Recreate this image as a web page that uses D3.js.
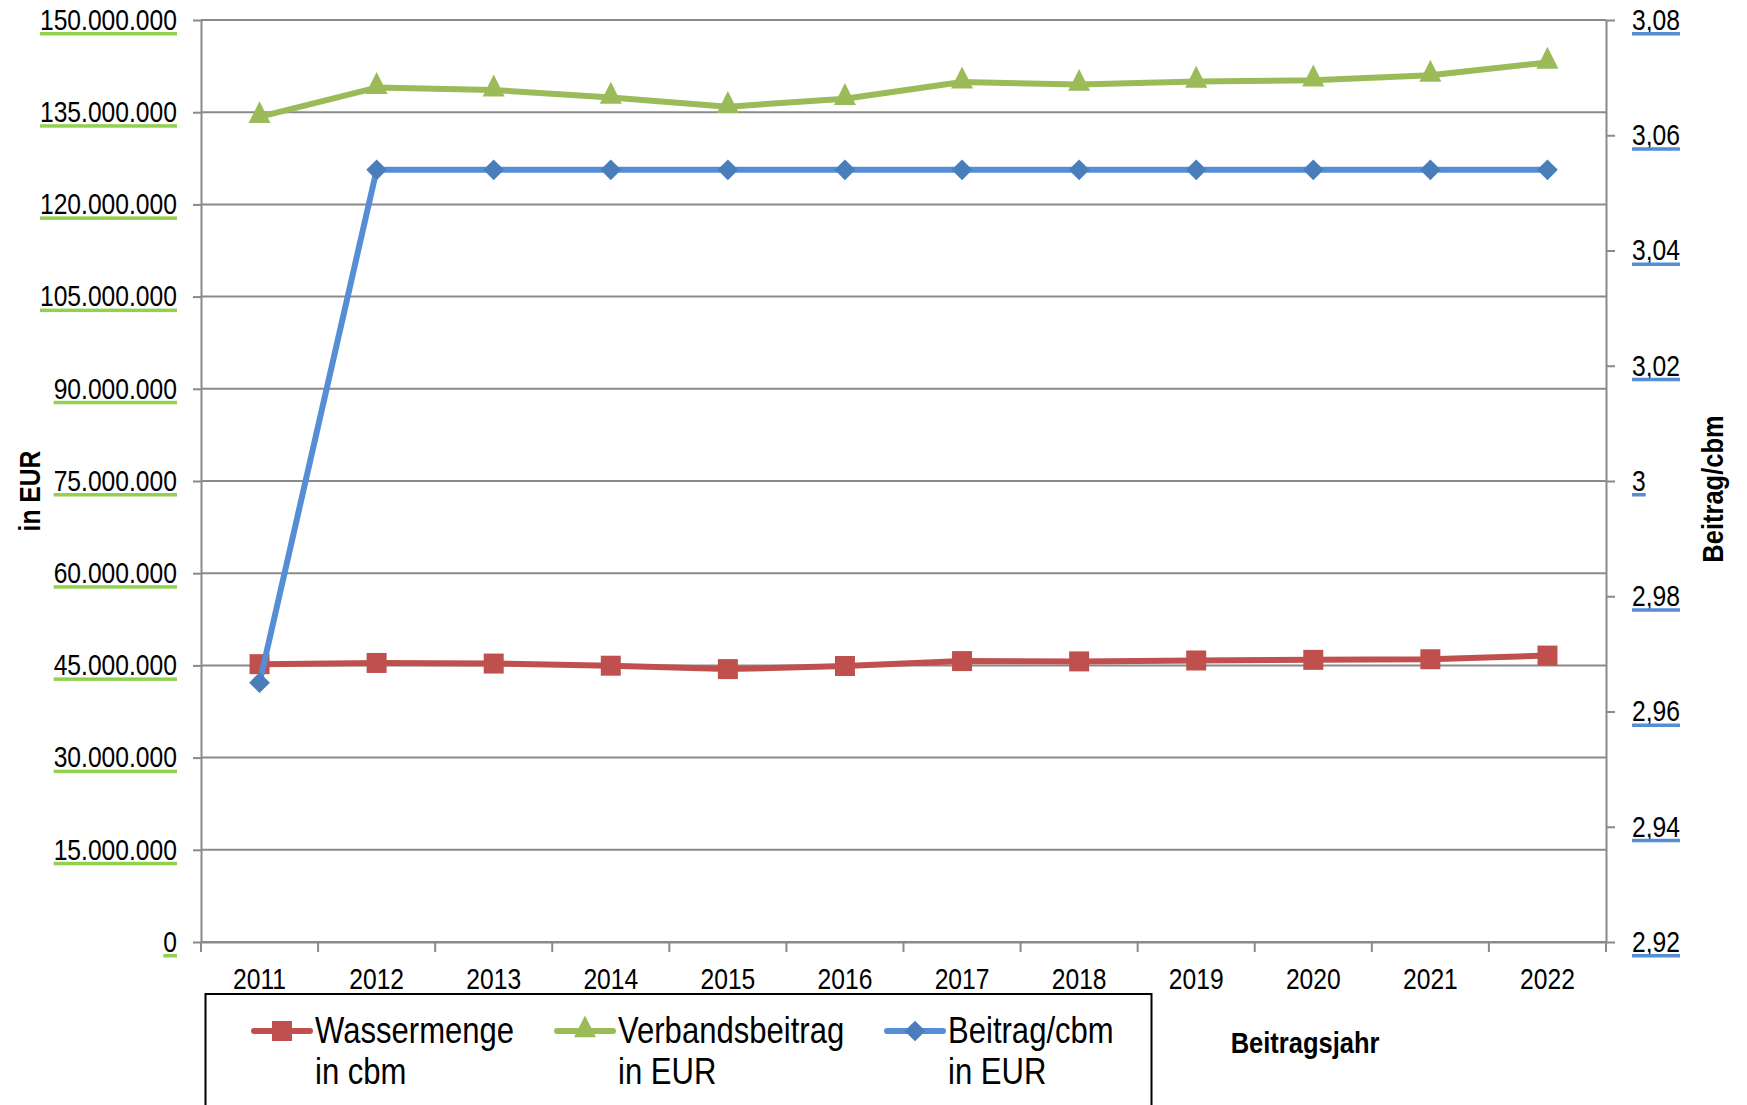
<!DOCTYPE html>
<html>
<head>
<meta charset="utf-8">
<script src="https://cdn.jsdelivr.net/npm/d3@7"></script>
<style>
  body { margin: 0; background: #fff; }
  text { font-family: "Liberation Sans", Arial, sans-serif; fill: #000; }
</style>
</head>
<body>
<div class="chart"></div>
<script>
var svgWidth = 1747
var svgHeight = 1105

var years = ["2011", "2012", "2013", "2014", "2015", "2016", "2017", "2018", "2019", "2020", "2021", "2022"];

// Wassermenge in cbm
var wassermenge = [45200000, 45400000, 45300000, 44950000, 44400000, 44900000, 45700000, 45650000, 45800000, 45900000, 46000000, 46600000];

// Verbandsbeitrag in EUR
var verbandsbeitrag = [134250000, 139000000, 138600000, 137400000, 135900000, 137200000, 139900000, 139500000, 140000000, 140200000, 141000000, 143100000];

// Beitrag/cbm in EUR (right axis)
var beitragCbm = [2.965, 3.054, 3.054, 3.054, 3.054, 3.054, 3.054, 3.054, 3.054, 3.054, 3.054, 3.054];

var leftTicks = [0, 15000000, 30000000, 45000000, 60000000, 75000000, 90000000, 105000000, 120000000, 135000000, 150000000];
var rightTicks = [2.92, 2.94, 2.96, 2.98, 3.00, 3.02, 3.04, 3.06, 3.08];

var legendNames = [["Wassermenge", "in cbm"], ["Verbandsbeitrag", "in EUR"], ["Beitrag/cbm", "in EUR"]];

var plot = {left: 201, right: 1606, top: 20, bottom: 942};
var K = 0.85; // horizontal squeeze to get a narrow font look

var de = d3.formatLocale({decimal: ",", thousands: ".", grouping: [3], currency: ["", " €"]});
var fmtLeft = de.format(",d");
var fmtRight = de.format(".2~f");

var svg = d3.select(".chart")
    .append("svg")
    .attr("width", svgWidth)
    .attr("height", svgHeight);

// squeeze text horizontally, keeping its anchor point
function narrow(sel, k) {
    sel.each(function() {
        var t = d3.select(this);
        var x = +t.attr("x") || 0;
        t.attr("x", x / k)
         .attr("transform", (t.attr("transform") || "") + ` scale(${k},1)`);
    });
}

var xScale = d3.scaleBand()
    .domain(years)
    .range([plot.left, plot.right]);
var xc = d => xScale(d) + xScale.bandwidth() / 2;

var yLeft = d3.scaleLinear().domain([0, 150000000]).range([plot.bottom, plot.top]);
var yRight = d3.scaleLinear().domain([2.92, 3.08]).range([plot.bottom, plot.top]);

// gridlines
svg.append("g").selectAll("line")
    .data(leftTicks)
    .enter()
    .append("line")
    .attr("x1", plot.left)
    .attr("x2", plot.right)
    .attr("y1", d => yLeft(d))
    .attr("y2", d => yLeft(d))
    .attr("stroke", "#8a8a8a")
    .attr("stroke-width", 2);

// left axis
var leftAxis = svg.append("g")
    .attr("transform", `translate(${plot.left}, 0)`)
    .call(d3.axisLeft(yLeft).tickValues(leftTicks).tickFormat(fmtLeft).tickSize(8).tickSizeOuter(0).tickPadding(16));
leftAxis.selectAll("text").style("font-size", "29px").attr("fill", "#000");
leftAxis.selectAll("line").attr("stroke", "#8a8a8a").attr("stroke-width", 2);
leftAxis.select(".domain").attr("stroke", "#8a8a8a").attr("stroke-width", 2);
narrow(leftAxis.selectAll("text"), K);

// right axis
var rightAxis = svg.append("g")
    .attr("transform", `translate(${plot.right}, 0)`)
    .call(d3.axisRight(yRight).tickValues(rightTicks).tickFormat(fmtRight).tickSize(9).tickSizeOuter(0).tickPadding(17));
rightAxis.selectAll("text").style("font-size", "29px").attr("fill", "#000");
rightAxis.selectAll("line").attr("stroke", "#8a8a8a").attr("stroke-width", 2);
rightAxis.select(".domain").attr("stroke", "#8a8a8a").attr("stroke-width", 2);
narrow(rightAxis.selectAll("text"), K);
rightAxis.append("line")
    .attr("x1", 0).attr("x2", 0)
    .attr("y1", plot.bottom).attr("y2", plot.bottom + 10)
    .attr("stroke", "#8a8a8a").attr("stroke-width", 2);

// coloured underline below each tick label
function underline(axisG, color) {
    axisG.selectAll(".tick").each(function() {
        var t = d3.select(this).select("text");
        var b = t.node().getBBox();
        d3.select(this).append("rect")
            .attr("x", b.x * K)
            .attr("y", 11.5)
            .attr("width", b.width * K)
            .attr("height", 3.5)
            .attr("fill", color);
    });
}
underline(leftAxis, "#92D050");
underline(rightAxis, "#558ED5");

// bottom axis
var bottomAxis = svg.append("g")
    .attr("transform", `translate(0, ${plot.bottom})`)
    .call(d3.axisBottom(xScale).tickSize(0).tickPadding(26));
bottomAxis.selectAll("text").style("font-size", "29px").attr("fill", "#000");
bottomAxis.select(".domain").attr("stroke", "#8a8a8a").attr("stroke-width", 2);
narrow(bottomAxis.selectAll("text"), K);
bottomAxis.selectAll(".sep")
    .data(years.concat(["end"]))
    .enter()
    .append("line")
    .attr("class", "sep")
    .attr("x1", d => d === "end" ? plot.right : xScale(d))
    .attr("x2", d => d === "end" ? plot.right : xScale(d))
    .attr("y1", 0)
    .attr("y2", 10)
    .attr("stroke", "#8a8a8a")
    .attr("stroke-width", 2);

// axis titles
var titles = svg.append("g");
titles.append("text")
    .attr("transform", "translate(40, 491) rotate(-90)")
    .attr("text-anchor", "middle")
    .style("font-size", "29px")
    .style("font-weight", "bold")
    .text("in EUR");

titles.append("text")
    .attr("transform", "translate(1723, 489) rotate(-90)")
    .attr("text-anchor", "middle")
    .style("font-size", "30px")
    .style("font-weight", "bold")
    .text("Beitrag/cbm");

titles.append("text")
    .attr("transform", "translate(1305, 1053)")
    .attr("text-anchor", "middle")
    .style("font-size", "30px")
    .style("font-weight", "bold")
    .text("Beitragsjahr");
narrow(titles.selectAll("text"), K);

// markers
var sym = {
    square: d3.symbol().type(d3.symbolSquare).size(400),
    triangle: d3.symbol().type(d3.symbolTriangle).size(210),
    diamond: d3.symbol().type(d3.symbolSquare).size(215)
};
var symTf = {
    square: "",
    triangle: " translate(0,-1) scale(1,1.15)",
    diamond: " rotate(45)"
};

var series = [
    {values: wassermenge, y: yLeft, line: "#C0504D", fill: "#C0504D", shape: "square"},
    {values: verbandsbeitrag, y: yLeft, line: "#9BBB59", fill: "#9BBB59", shape: "triangle"},
    {values: beitragCbm, y: yRight, line: "#558ED5", fill: "#4A7EBB", shape: "diamond"}
];

series.forEach(function(s) {
    var g = svg.append("g");
    var line = d3.line()
        .x((d, i) => xc(years[i]))
        .y(d => s.y(d));
    g.append("path")
        .datum(s.values)
        .attr("d", line)
        .attr("fill", "none")
        .attr("stroke", s.line)
        .attr("stroke-width", 6)
        .attr("stroke-linejoin", "round");
    g.selectAll("path.m")
        .data(s.values)
        .enter()
        .append("path")
        .attr("class", "m")
        .attr("d", sym[s.shape])
        .attr("transform", (d, i) => `translate(${xc(years[i])}, ${s.y(d)})` + symTf[s.shape])
        .attr("fill", s.fill);
});

// legend
var legend = svg.append("g");
legend.append("rect")
    .attr("x", 205.5)
    .attr("y", 994)
    .attr("width", 946)
    .attr("height", 140)
    .attr("fill", "#fff")
    .attr("stroke", "#000")
    .attr("stroke-width", 2);

var legendX = [254, 557, 887];
series.forEach(function(s, i) {
    var x0 = legendX[i];
    var item = legend.append("g").attr("transform", `translate(${x0}, 1031)`);
    item.append("line")
        .attr("x1", 0).attr("x2", 56)
        .attr("y1", 0).attr("y2", 0)
        .attr("stroke", s.line)
        .attr("stroke-width", 6)
        .attr("stroke-linecap", "round");
    item.append("path")
        .attr("d", sym[s.shape])
        .attr("transform", "translate(28, 0)" + symTf[s.shape])
        .attr("fill", s.fill);
    var k = 0.84;
    var t = item.append("text")
        .attr("transform", `scale(${k},1)`)
        .attr("y", 12)
        .style("font-size", "37px");
    t.append("tspan").attr("x", 61 / k).text(legendNames[i][0]);
    t.append("tspan").attr("x", 61 / k).attr("dy", 41).text(legendNames[i][1]);
});
</script>
</body>
</html>
